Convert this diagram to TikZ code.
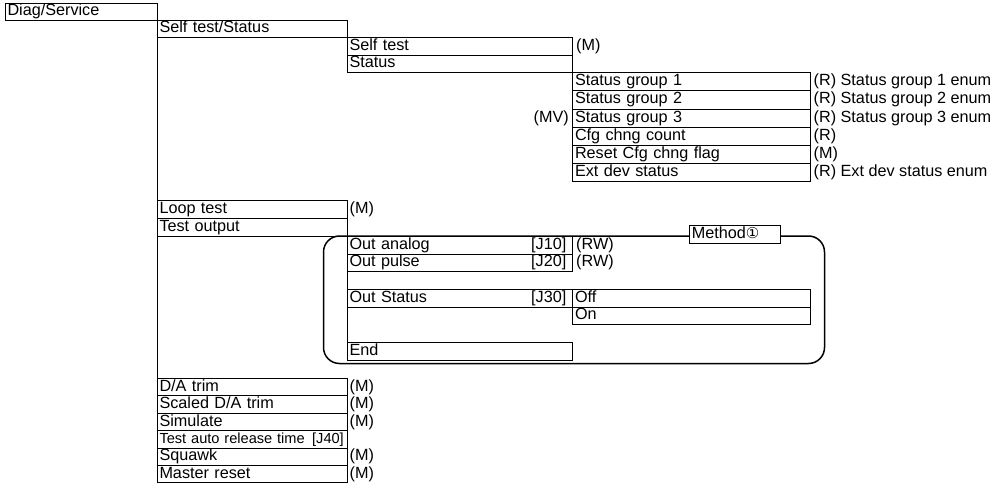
\documentclass[tikz,border=0pt]{standalone}
\usepackage{fontspec}
\setmainfont{Liberation Sans}
\newfontfamily\symfont{DejaVu Sans}
\newcommand\mfs{\fontsize{16.2pt}{18pt}\selectfont}
\newcommand\sfs{\fontsize{14.6pt}{17pt}\selectfont}
\begin{document}
\begin{tikzpicture}[x=1pt,y=-1pt,
  box/.style={draw, line width=0.9pt, anchor=north west, outer sep=0pt,
    inner xsep=2.5pt, inner ysep=0pt, text height=11.5pt, text depth=3.5pt,
    align=left, font=\mfs},
  wa/.style={box, text width=147pt},
  wb/.style={box, text width=185pt},
  wc/.style={box, text width=220.5pt},
  wd/.style={box, text width=233pt},
  rowh/.style={minimum height=#1},
  ann/.style={anchor=base west, inner sep=0pt, font=\mfs},
  annr/.style={anchor=base east, inner sep=0pt, font=\mfs},
  conn/.style={draw, line width=0.9pt}
]
\useasboundingbox (0,0) rectangle (992,489);

% method frame
\node[draw, line width=1.5pt, rounded corners=16pt, anchor=north west, outer sep=0pt,
  inner sep=0pt, minimum width=501pt, minimum height=127.5pt] (frame) at (323.5,236) {};

% level 0
\node[wa, rowh=16.7pt] (diag) at (5,3.3) {Diag/Service};
% level 1
\node[wb, rowh=17.7pt] (selfstat) at (157,20) {Self test/Status};
\node[wc, rowh=17.6pt] (selftest) at (347,37.7) {Self test};
\node[wc, rowh=17.4pt] (status) at (347,55.3) {Status};
\node[wd, rowh=18.2pt] (sg1) at (572.5,72.7) {Status group 1};
\node[wd, rowh=18.2pt] (sg2) at (572.5,90.9) {Status group 2};
\node[wd, rowh=18.2pt] (sg3) at (572.5,109.1) {Status group 3};
\node[wd, rowh=18.2pt] (cfg) at (572.5,127.3) {Cfg chng count};
\node[wd, rowh=18.2pt] (rcfg) at (572.5,145.5) {Reset Cfg chng flag};
\node[wd, rowh=18.2pt] (extdev) at (572.5,163.7) {Ext dev status};

\node[wb, rowh=17.8pt] (loop) at (157,200.5) {Loop test};
\node[wb, rowh=17.7pt] (testout) at (157,218.3) {Test output};
\node[wc, rowh=18pt] (outan) at (347,236) {Out analog};
\node[wc, rowh=17.7pt] (outpu) at (347,254) {Out pulse};
\node[wc, rowh=17.5pt] (outst) at (347,289.5) {Out Status};
\node[wd, rowh=17.5pt] (off) at (572.5,289.5) {Off};
\node[wd, rowh=17.3pt] (on) at (572.5,307) {On};
\node[wc, rowh=18pt] (endn) at (347,342) {End};

\node[wb, rowh=17.4pt] (da) at (157,378.5) {D/A trim};
\node[wb, rowh=17.4pt] (sda) at (157,395.9) {Scaled D/A trim};
\node[wb, rowh=17.4pt] (sim) at (157,413.3) {Simulate};
\node[wb, rowh=17.4pt, font=\sfs] (tar) at (157,430.7) {Test auto release time};
\node[wb, rowh=17.4pt] (squawk) at (157,448.1) {Squawk};
\node[wb, rowh=17.4pt] (mreset) at (157,465.5) {Master reset};

% connectors (tree lines)
\draw[conn] (diag.south east) -- (mreset.south west);
\draw[conn] (selfstat.south east) -- (status.south west);
\draw[conn] (status.south east) -- (extdev.south west);
\draw[conn] (testout.south east) -- (endn.south west);
\draw[conn] (outst.south east) -- (on.south west);

% method label
\node[draw, fill=white, line width=0.9pt, anchor=north west, outer sep=0pt,
  inner xsep=2.5pt, inner ysep=0pt, text height=11.5pt, text depth=3.5pt,
  text width=86.4pt, align=left, minimum height=17.6pt, font=\mfs]
  (method) at (689.3,225.7) {Method{\symfont\fontsize{15pt}{16pt}\selectfont ①}};

% annotations
\node[ann] (a-selftest) at ([xshift=3.5pt]selftest.base east) {(M)};
\node[ann] (a-sg1) at ([xshift=3pt]sg1.base east) {(R) Status group 1 enum};
\node[ann] (a-sg2) at ([xshift=3pt]sg2.base east) {(R) Status group 2 enum};
\node[ann] (a-sg3) at ([xshift=3pt]sg3.base east) {(R) Status group 3 enum};
\node[ann] (a-cfg) at ([xshift=3pt]cfg.base east) {(R)};
\node[ann] (a-rcfg) at ([xshift=3pt]rcfg.base east) {(M)};
\node[ann] (a-extdev) at ([xshift=3pt]extdev.base east) {(R) Ext dev status enum};
\node[annr] (a-mv) at ([xshift=-3.5pt]sg3.base west) {(MV)};

\node[ann] (a-loop) at ([xshift=2.5pt]loop.base east) {(M)};
\node[ann] (a-outan) at ([xshift=3.5pt]outan.base east) {(RW)};
\node[ann] (a-outpu) at ([xshift=3.5pt]outpu.base east) {(RW)};
\node[annr] (j10) at ([xshift=-6pt]outan.base east) {[J10]};
\node[annr] (j20) at ([xshift=-6pt]outpu.base east) {[J20]};
\node[annr] (j30) at ([xshift=-6pt]outst.base east) {[J30]};

\node[ann] (a-da) at ([xshift=2.5pt]da.base east) {(M)};
\node[ann] (a-sda) at ([xshift=2.5pt]sda.base east) {(M)};
\node[ann] (a-sim) at ([xshift=2.5pt]sim.base east) {(M)};
\node[annr, font=\sfs] (j40) at ([xshift=-3pt]tar.base east) {[J40]};
\node[ann] (a-squawk) at ([xshift=2.5pt]squawk.base east) {(M)};
\node[ann] (a-mreset) at ([xshift=2.5pt]mreset.base east) {(M)};
\end{tikzpicture}
\end{document}
